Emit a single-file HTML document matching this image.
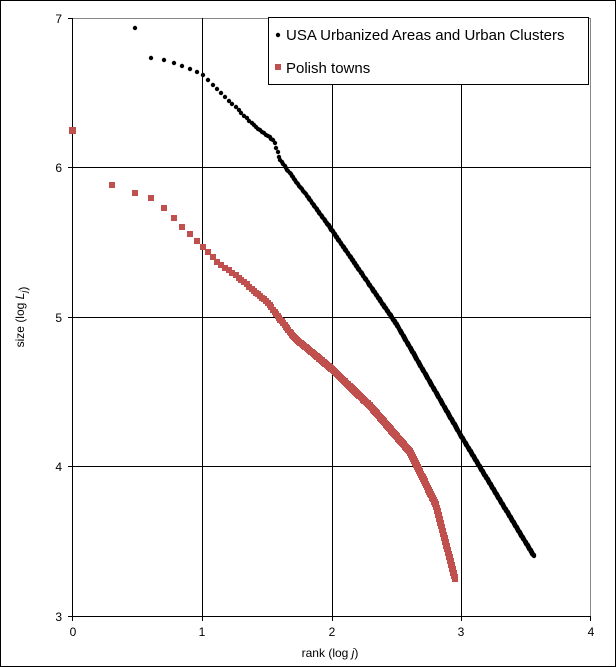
<!DOCTYPE html>
<html><head><meta charset="utf-8"><style>
body{margin:0;background:#fff;}
svg{display:block;font-family:"Liberation Sans",Arial,sans-serif;}
</style></head><body>
<svg id="s" width="616" height="667" xmlns="http://www.w3.org/2000/svg">
<rect x="0.5" y="0.5" width="615" height="666" fill="#fff" stroke="#000"/>
<g stroke="#000" stroke-width="1">
<line x1="73" y1="18.5" x2="591" y2="18.5" stroke="#888"/>
<line x1="590.5" y1="18" x2="590.5" y2="616" stroke="#888"/>
<line x1="73" y1="167.5" x2="591" y2="167.5"/>
<line x1="73" y1="317.5" x2="591" y2="317.5"/>
<line x1="73" y1="466.5" x2="591" y2="466.5"/>
<line x1="202.5" y1="18" x2="202.5" y2="621"/>
<line x1="332.5" y1="18" x2="332.5" y2="621"/>
<line x1="461.5" y1="18" x2="461.5" y2="621"/>
<line x1="590.5" y1="616" x2="590.5" y2="621"/>
<line x1="72.5" y1="18" x2="72.5" y2="621"/>
<line x1="68" y1="616.5" x2="591" y2="616.5"/>
<line x1="68" y1="18.5" x2="73" y2="18.5"/>
<line x1="68" y1="167.5" x2="73" y2="167.5"/>
<line x1="68" y1="317.5" x2="73" y2="317.5"/>
<line x1="68" y1="466.5" x2="73" y2="466.5"/>
</g>
<g font-size="12" fill="#000" text-anchor="end">
<text x="62" y="23">7</text><text x="62" y="172">6</text><text x="62" y="322">5</text><text x="62" y="471">4</text><text x="62" y="621">3</text>
</g>
<g font-size="12" fill="#000" text-anchor="middle">
<text x="73" y="636">0</text><text x="202" y="636">1</text><text x="332" y="636">2</text><text x="461" y="636">3</text><text x="591" y="636">4</text>
<text x="330" y="657">rank (log <tspan font-style="italic">j</tspan>)</text>
<text transform="translate(24,317) rotate(-90)">size (log <tspan font-style="italic">L<tspan font-size="9" dy="3">j</tspan></tspan>)</text>
</g>
<g id="pts"></g>
<rect x="268.5" y="17.5" width="320" height="67" fill="#fff" stroke="#000"/>
<circle cx="278" cy="35" r="2.2" fill="#000"/>
<text x="286" y="40" font-size="15">USA Urbanized Areas and Urban Clusters</text>
<rect x="275" y="64" width="6" height="6" fill="#c0504d"/>
<text x="286" y="73" font-size="15">Polish towns</text>
</svg>
<script>
function X(v){return 73+v*129.5;}function Y(v){return 616-(v-3)*149.5;}
function interp(p,x){for(var i=0;i<p.length-1;i++){if(x<=p[i+1][0]){var t=(x-p[i][0])/(p[i+1][0]-p[i][0]);return p[i][1]+t*(p[i+1][1]-p[i][1]);}}return p[p.length-1][1];}
var g=document.getElementById('pts'),h='';
var red=[[0,6.25],[0.3,5.88],[0.48,5.83],[0.6,5.8],[0.7,5.73],[0.85,5.6],[1,5.47],[1.1,5.38],[1.3,5.25],[1.5,5.1],[1.7,4.87],[2,4.65],[2.3,4.4],[2.6,4.1],[2.8,3.75],[2.95,3.25]];
var pr={};for(var j=1;j<=891;j++){var lx=Math.log10(j);var px=Math.round(X(lx)),py=Math.round(Y(interp(red,lx)));var k=px+','+py;if(pr[k])continue;pr[k]=1;h+='<rect x="'+(px-3)+'" y="'+(py-3)+'" width="6" height="6" fill="#c0504d"/>';}
h+='<rect x="69" y="127" width="7" height="7" fill="#c0504d"/>';
var blk=[[0.48,6.93],[0.6,6.73],[0.7,6.72],[0.85,6.68],[1,6.62],[1.2,6.45],[1.4,6.28],[1.55,6.18],[1.6,6.05],[1.65,5.99],[1.8,5.82],[2,5.58],[2.5,4.95],[3,4.2],[3.56,3.4]];
var pb={};for(var j=3;j<=3630;j++){var lx=Math.log10(j);var px=Math.round(X(lx)),py=Math.round(Y(interp(blk,lx)));var k=px+','+py;if(pb[k])continue;pb[k]=1;h+='<circle cx="'+px+'" cy="'+py+'" r="2.2" fill="#000"/>';}
g.innerHTML=h;
</script>
</body></html>
